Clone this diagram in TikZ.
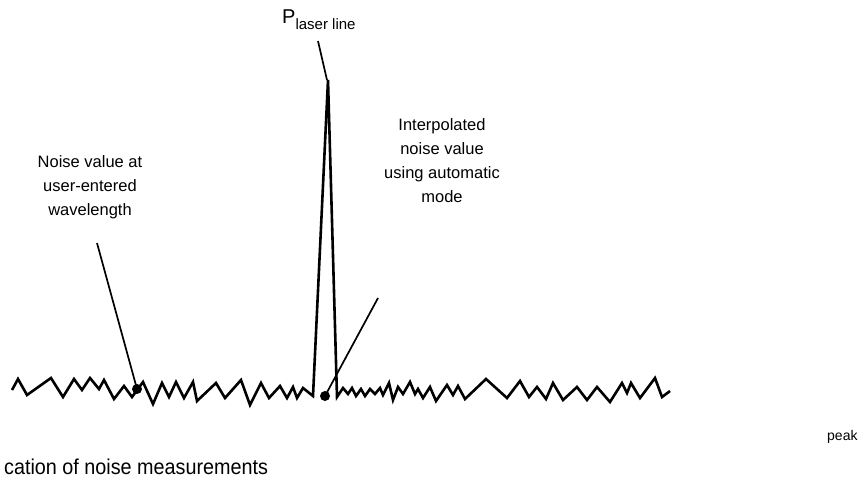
\documentclass[tikz,border=0pt]{standalone}
\usepackage{fontspec}
\setmainfont{Liberation Sans}
\newfontfamily\capfont[FakeStretch=0.92]{Liberation Sans}
\begin{document}
\begin{tikzpicture}[x=1pt,y=-1pt,
  lbl/.style={inner sep=0pt,anchor=base,font=\fontsize{16.5}{20}\selectfont},
  noise/.style={line width=2.6pt,line join=miter},
  leader/.style={line width=1.7pt},
  dot/.style={circle,fill=black,inner sep=0pt,minimum size=10pt}]
\useasboundingbox (0,0) rectangle (862,491);
% labels
\node[lbl] (a1) at (90,167) {Noise value at};
\node[lbl] (a2) at (90,191) {user-entered};
\node[lbl] (a3) at (90,215) {wavelength};
\node[lbl] (b1) at (442,130) {Interpolated};
\node[lbl] (b2) at (442,154) {noise value};
\node[lbl] (b3) at (442,178) {using automatic};
\node[lbl] (b4) at (442,202) {mode};
\node[inner sep=0pt,anchor=base west] (p) at (282,23)
  {\fontsize{20}{20}\selectfont P\raisebox{-6.5pt}{\fontsize{15}{15}\selectfont laser line}};
\node[inner sep=0pt,anchor=base west,font=\fontsize{14}{16}\selectfont] (pk) at (827,440) {peak};
\node[inner sep=0pt,anchor=base west,font=\capfont\fontsize{21.5}{24}\selectfont] (cap) at (4,474) {cation of noise measurements};
% trace
\draw[noise] (12,390) -- (18,379) -- (27,395) -- (51,378) -- (63,397) -- (74,379) -- (82,390) -- (90,378) -- (99,389) -- (104,380) -- (114,399) -- (124,386) -- (132,397) -- (143,382) -- (153,404) -- (162,383) -- (169,397) -- (176,382) -- (184,398) -- (193,382) -- (197,401) -- (216,383) -- (225,398) -- (241,380) -- (250,405) -- (261,383) -- (269,398) -- (280,386) -- (287,398) -- (293,387) -- (297,398) -- (303,388) -- (313,396) -- (328,80) -- (337,397) -- (343,388) -- (348,394) -- (352,388) -- (356,396) -- (361,389) -- (365,396) -- (370,389) -- (375,394) -- (380,388) -- (383,395) -- (389,383) -- (393,400) -- (398,387) -- (403,394) -- (410,382) -- (415,394) -- (418,389) -- (423,398) -- (430,387) -- (436,401) -- (447,385) -- (453,395) -- (458,386) -- (465,399) -- (486,379) -- (507,398) -- (520,381) -- (529,397) -- (537,387) -- (546,399) -- (553,383) -- (563,400) -- (577,387) -- (587,400) -- (597,387) -- (610,402) -- (622,383) -- (627,393) -- (631,383) -- (640,398) -- (655,378) -- (662,397) -- (670,391);
% dots
\node[dot] (d1) at (137,389) {};
\node[dot] (d2) at (325,396) {};
\coordinate (apex) at (327,80);
\coordinate (l1) at (97,243);
\coordinate (l2) at (378,298);
\coordinate (l3) at (318,41);
\draw[leader] (l1) -- (d1.center);
\draw[leader] (l2) -- (d2.center);
\draw[leader] (l3) -- (apex);
\end{tikzpicture}
\end{document}
